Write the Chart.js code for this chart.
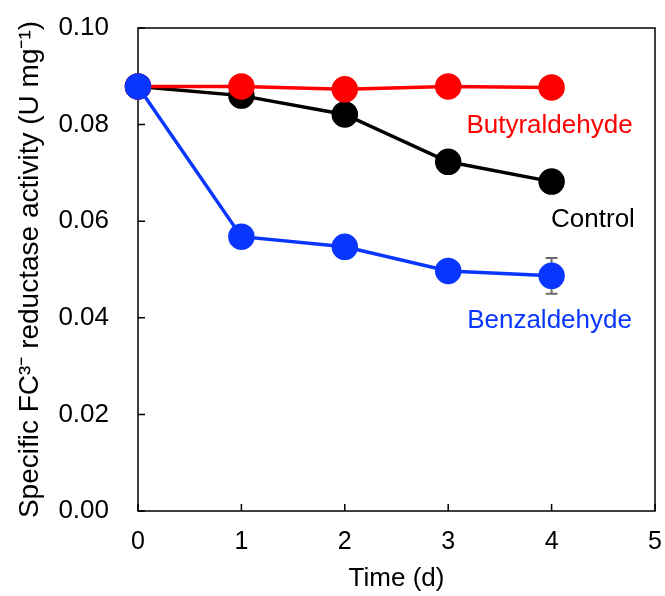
<html>
<head>
<script src="https://cdn.jsdelivr.net/npm/chart.js@4/dist/chart.umd.min.js"></script>
<style>
  body { margin: 0; background: #fff; }
  #wrap { width: 665px; height: 596px; }
</style>
</head>
<body>
<div id="wrap"><canvas id="myChart" width="665" height="596"></canvas></div>
<script>
// data
var days = [0, 1, 2, 3, 4];
var control = [0.0879, 0.0860, 0.0821, 0.0723, 0.0682];
var butyraldehyde = [0.0879, 0.0879, 0.0873, 0.0879, 0.0877];
var benzaldehyde = [0.0879, 0.0568, 0.0547, 0.0497, 0.0487];
var benzaldehydeErr = [0, 0, 0, 0, 0.0037];
var xTicks = [0, 1, 2, 3, 4, 5];
var yTicks = [0, 0.02, 0.04, 0.06, 0.08, 0.10];

var RED = '#ff0000', BLACK = '#000000', BLUE = '#0a37ff';
var FONT = 'Liberation Sans, Arial, sans-serif';

// series name labels placed in data coords
var seriesLabels = [
  { text: 'Butyraldehyde', x: 3.98, y: 0.0797, color: RED },
  { text: 'Control', x: 4.40, y: 0.0602, color: BLACK },
  { text: 'Benzaldehyde', x: 3.98, y: 0.0393, color: BLUE }
];

function pts(ys) {
  return days.map(function (d, i) { return { x: d, y: ys[i] }; });
}
function series(label, ys, color) {
  return {
    label: label, data: pts(ys),
    borderColor: color, backgroundColor: color,
    pointBackgroundColor: color, pointBorderColor: color,
    borderWidth: 3.5, pointRadius: 11.5, pointHoverRadius: 11.5,
    tension: 0, clip: false
  };
}
function noPad(s) {
  s.paddingTop = 0; s.paddingBottom = 0; s.paddingLeft = 0; s.paddingRight = 0;
}

var framePlugin = {
  id: 'frame',
  beforeDatasetsDraw: function (chart) {
    var ctx = chart.ctx, a = chart.chartArea;
    var xs = chart.scales.x, ys = chart.scales.y;
    ctx.save();
    ctx.strokeStyle = '#000';
    ctx.lineWidth = 1.5;
    ctx.strokeRect(a.left, a.top, a.right - a.left, a.bottom - a.top);
    ctx.beginPath();
    xTicks.forEach(function (t) {
      var px = xs.getPixelForValue(t);
      ctx.moveTo(px, a.bottom); ctx.lineTo(px, a.bottom - 7);
    });
    yTicks.forEach(function (t) {
      var py = ys.getPixelForValue(t);
      ctx.moveTo(a.left, py); ctx.lineTo(a.left + 7, py);
    });
    ctx.stroke();
    // error bars
    ctx.strokeStyle = '#6b6b6b';
    ctx.lineWidth = 2;
    ctx.beginPath();
    days.forEach(function (d, i) {
      var e = benzaldehydeErr[i];
      if (!e) return;
      var px = xs.getPixelForValue(d);
      var top = ys.getPixelForValue(benzaldehyde[i] + e);
      var bot = ys.getPixelForValue(benzaldehyde[i] - e);
      ctx.moveTo(px, top); ctx.lineTo(px, bot);
      ctx.moveTo(px - 6, top); ctx.lineTo(px + 6, top);
      ctx.moveTo(px - 6, bot); ctx.lineTo(px + 6, bot);
    });
    ctx.stroke();
    ctx.restore();
  },
  afterDatasetsDraw: function (chart) {
    var ctx = chart.ctx;
    var xs = chart.scales.x, ys = chart.scales.y;
    ctx.save();
    ctx.font = '26px ' + FONT;
    ctx.textAlign = 'center';
    ctx.textBaseline = 'middle';
    seriesLabels.forEach(function (l) {
      ctx.fillStyle = l.color;
      ctx.fillText(l.text, xs.getPixelForValue(l.x), ys.getPixelForValue(l.y));
    });
    ctx.restore();
  }
};

var chart = new Chart(document.getElementById('myChart'), {
  type: 'line',
  data: {
    datasets: [
      series('Benzaldehyde', benzaldehyde, BLUE),
      series('Butyraldehyde', butyraldehyde, RED),
      series('Control', control, BLACK)
    ]
  },
  options: {
    responsive: false,
    animation: false,
    layout: { autoPadding: false, padding: { left: 0, top: 28, right: 10, bottom: 0 } },
    plugins: { legend: { display: false }, tooltip: { enabled: false } },
    scales: {
      x: {
        type: 'linear', min: 0, max: 5,
        afterBuildTicks: function (s) { s.ticks = xTicks.map(function (v) { return { value: v }; }); },
        afterFit: function (s) { s.height = 85; noPad(s); },
        grid: { display: false },
        border: { display: false },
        ticks: { color: '#000', font: { family: FONT, size: 25 }, padding: 8, maxRotation: 0 },
        title: { display: true, text: 'Time (d)', color: '#000', font: { family: FONT, size: 26 }, padding: { top: 0, bottom: 2 } }
      },
      y: {
        min: 0, max: 0.1,
        afterBuildTicks: function (s) { s.ticks = yTicks.map(function (v) { return { value: v }; }); },
        afterFit: function (s) { s.width = 138; noPad(s); },
        grid: { display: false },
        border: { display: false },
        ticks: {
          color: '#000', font: { family: FONT, size: 26 }, padding: 21,
          callback: function (v) { return v.toFixed(2); }
        },
        title: {
          display: true, text: 'Specific FC\u00b3\u207b reductase activity (U mg\u207b\u00b9)',
          color: '#000', font: { family: FONT, size: 28 }, padding: { top: 13, bottom: 0 }
        }
      }
    }
  },
  plugins: [framePlugin]
});
</script>
</body>
</html>
